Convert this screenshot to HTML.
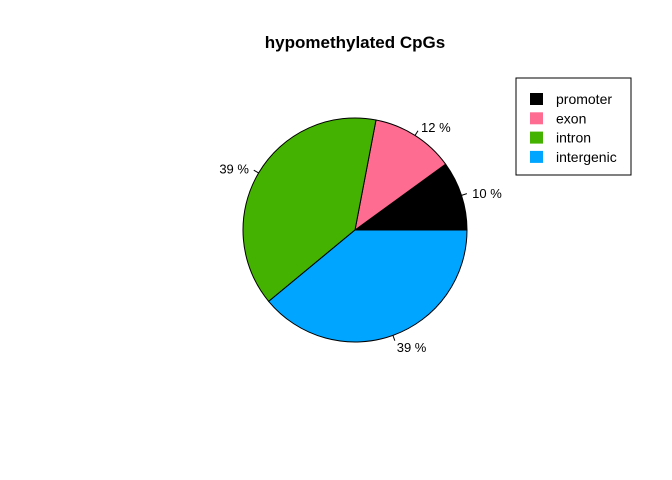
<!DOCTYPE html>
<html><head><meta charset="utf-8"><style>
body{margin:0;background:#fff;}
svg{display:block;font-family:"Liberation Sans",Arial,sans-serif;}
</style></head><body>
<svg id="chart" width="672" height="480">
<text x="355" y="48" text-anchor="middle" font-size="17" font-weight="bold">hypomethylated CpGs</text>
<g id="slices"></g>
<g id="legend">
<rect x="516" y="78" width="115" height="97" fill="#fff" stroke="#000" stroke-width="1"></rect>
</g>
</svg>
<script>
const categories=["promoter","exon","intron","intergenic"];
const values=[10,12,39,39];
const labels=["10 %","12 %","39 %","39 %"];
const colors=["#000000","#FF6C91","#44B200","#00A5FF"];
const cx=355,cy=230,r=112;
const ns="http://www.w3.org/2000/svg";
const g=document.getElementById("slices");
const total=values.reduce((a,b)=>a+b,0);
let a0=0;
function pt(a,rr){return [cx+rr*Math.cos(a),cy-rr*Math.sin(a)];}
values.forEach((v,i)=>{
  const a1=a0+v/total*2*Math.PI;
  const p0=pt(a0,r),p1=pt(a1,r);
  const large=(a1-a0)>Math.PI?1:0;
  const path=document.createElementNS(ns,"path");
  path.setAttribute("d",`M${cx},${cy} L${p0[0]},${p0[1]} A${r},${r} 0 ${large} 0 ${p1[0]},${p1[1]} Z`);
  path.setAttribute("fill",colors[i]);path.setAttribute("stroke","#000");path.setAttribute("stroke-width","1");
  
  
  g.appendChild(path);
  const am=(a0+a1)/2;
  const t0=pt(am,r),t1=pt(am,r*1.05),tl=pt(am,r*1.1);
  const ln=document.createElementNS(ns,"line");
  ln.setAttribute("x1",t0[0]);ln.setAttribute("y1",t0[1]);ln.setAttribute("x2",t1[0]);ln.setAttribute("y2",t1[1]);
  ln.setAttribute("stroke","#000");
  
  
  g.appendChild(ln);
  const tx=document.createElementNS(ns,"text");
  tx.setAttribute("x",tl[0]);tx.setAttribute("y",tl[1]+6);
  tx.setAttribute("font-size","13");
  tx.setAttribute("text-anchor",Math.cos(am)>=0?"start":"end");
  tx.textContent=labels[i];
  
  
  g.appendChild(tx);
  a0=a1;
});
const lg=document.getElementById("legend");
categories.forEach((c,i)=>{
  const y=99+i*19.3;
  const s=document.createElementNS(ns,"rect");
  s.setAttribute("x",530);s.setAttribute("y",y-6);s.setAttribute("width",13);s.setAttribute("height",12);
  s.setAttribute("fill",colors[i]);
  
  
  lg.appendChild(s);
  const t=document.createElementNS(ns,"text");
  t.setAttribute("x",556);t.setAttribute("y",y+5);t.setAttribute("font-size","14");
  t.textContent=c;
  
  
  lg.appendChild(t);
});
</script>
</body></html>
